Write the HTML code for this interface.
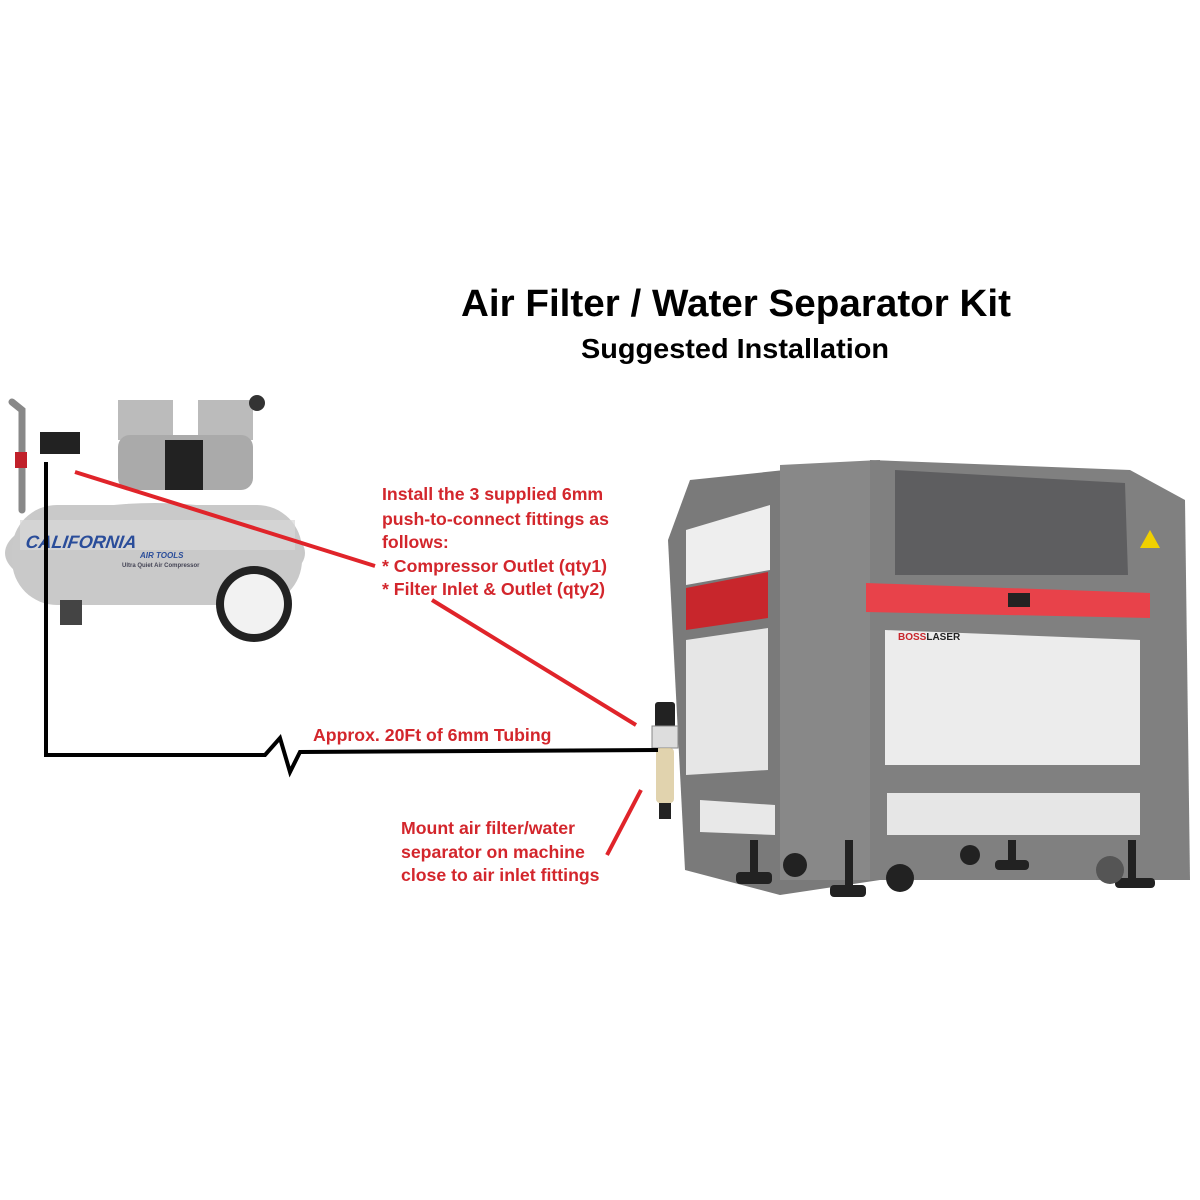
<!DOCTYPE html>
<html><head><meta charset="utf-8"><style>
html,body{margin:0;padding:0;background:#fff}
svg{display:block}
text{font-family:"Liberation Sans",sans-serif;font-weight:bold}
</style></head><body>
<svg width="1200" height="1200" viewBox="0 0 1200 1200" xmlns="http://www.w3.org/2000/svg">
<rect width="1200" height="1200" fill="#fff"/>
<text x="736" y="316" font-size="38" text-anchor="middle" fill="#000" textLength="550" lengthAdjust="spacingAndGlyphs">Air Filter / Water Separator Kit</text>
<text x="735" y="358" font-size="28" text-anchor="middle" fill="#000" textLength="308" lengthAdjust="spacingAndGlyphs">Suggested Installation</text>

<!-- Compressor -->
<g>
<path d="M12 402 L22 410 L22 510" stroke="#888" stroke-width="7" fill="none" stroke-linecap="round"/>
<ellipse cx="155" cy="553" rx="150" ry="50" fill="#c8c8c8"/>
<rect x="12" y="505" width="290" height="100" rx="45" fill="#c9c9c9"/>
<rect x="20" y="520" width="275" height="30" fill="#d8d8d8" opacity="0.7"/>
<rect x="60" y="600" width="22" height="25" fill="#444"/>
<rect x="118" y="400" width="55" height="40" fill="#bbb"/>
<rect x="198" y="400" width="55" height="40" fill="#bbb"/>
<rect x="118" y="435" width="135" height="55" rx="12" fill="#aaa"/>
<rect x="165" y="440" width="38" height="50" fill="#222"/>
<circle cx="257" cy="403" r="8" fill="#333"/>
<rect x="40" y="432" width="40" height="22" fill="#222"/>
<rect x="15" y="452" width="12" height="16" fill="#c0202a"/>
<text x="102" y="548" font-size="18" fill="#2a4d9a" font-style="italic" transform="skewX(-8)">CALIFORNIA</text>
<text x="140" y="558" font-size="8" fill="#2a4d9a" font-style="italic">AIR TOOLS</text>
<text x="122" y="567" font-size="6" fill="#445">Ultra Quiet Air Compressor</text>
<circle cx="254" cy="604" r="38" fill="#222"/>
<circle cx="254" cy="604" r="30" fill="#f2f2f2"/>
</g>

<!-- Laser machine -->
<g>
<polygon points="668,540 690,480 880,460 880,880 780,895 685,870" fill="#7a7a7a"/>
<polygon points="686,530 770,505 770,570 686,585" fill="#eee"/>
<polygon points="686,588 768,572 768,618 686,630" fill="#c8262c"/>
<polygon points="686,640 768,628 768,770 686,775" fill="#e6e6e6"/>
<polygon points="700,800 775,805 775,835 700,832" fill="#e8e8e8"/>
<polygon points="780,465 880,460 880,880 780,880" fill="#888"/>
<polygon points="870,460 1130,470 1185,500 1190,880 870,880" fill="#808080"/>
<polygon points="895,470 1125,483 1128,575 895,575" fill="#5e5e60"/>
<polygon points="866,583 1150,593 1150,618 866,612" fill="#e8424a"/>
<rect x="1008" y="593" width="22" height="14" fill="#222"/>
<polygon points="885,630 1140,640 1140,765 885,765" fill="#ececec"/>
<polygon points="887,793 1140,793 1140,835 887,835" fill="#e6e6e6"/>
<text x="898" y="640" font-size="10" fill="#222"><tspan fill="#c8262c">BOSS</tspan>LASER</text>
<polygon points="1150,530 1160,548 1140,548" fill="#f0d000"/>
<g fill="#222">
<rect x="750" y="840" width="8" height="35"/><rect x="736" y="872" width="36" height="12" rx="4"/>
<rect x="845" y="840" width="8" height="50"/><rect x="830" y="885" width="36" height="12" rx="4"/>
<rect x="1008" y="840" width="8" height="25"/><rect x="995" y="860" width="34" height="10" rx="4"/>
<rect x="1128" y="840" width="8" height="40"/><rect x="1115" y="878" width="40" height="10" rx="4"/>
<circle cx="900" cy="878" r="14"/><circle cx="795" cy="865" r="12"/><circle cx="970" cy="855" r="10"/>
<circle cx="1110" cy="870" r="14" fill="#555"/>
</g>
</g>

<!-- Filter -->
<rect x="655" y="702" width="20" height="26" rx="3" fill="#222"/>
<rect x="652" y="726" width="26" height="22" fill="#ddd" stroke="#888"/>
<rect x="656" y="748" width="18" height="55" rx="4" fill="#d9c89a" opacity="0.8"/>
<rect x="659" y="803" width="12" height="16" fill="#222"/>

<!-- Tubing -->
<polyline points="46,462 46,755 265,755 280,738 290,772 300,752 658,750" fill="none" stroke="#000" stroke-width="4"/>

<!-- Red lines -->
<line x1="75" y1="472" x2="375" y2="566" stroke="#e0242a" stroke-width="4"/>
<line x1="432" y1="600" x2="636" y2="725" stroke="#e0242a" stroke-width="4"/>
<line x1="641" y1="790" x2="607" y2="855" stroke="#e0242a" stroke-width="4"/>

<g fill="#d3262c" font-size="17.7">
<text x="382" y="500">Install the 3 supplied 6mm</text>
<text x="382" y="525">push-to-connect fittings as</text>
<text x="382" y="548">follows:</text>
<text x="382" y="572">* Compressor Outlet (qty1)</text>
<text x="382" y="595">* Filter Inlet &amp; Outlet (qty2)</text>
<text x="313" y="741">Approx. 20Ft of 6mm Tubing</text>
<text x="401" y="834">Mount air filter/water</text>
<text x="401" y="858">separator on  machine</text>
<text x="401" y="881">close to air inlet fittings</text>
</g>
</svg>
</body></html>
